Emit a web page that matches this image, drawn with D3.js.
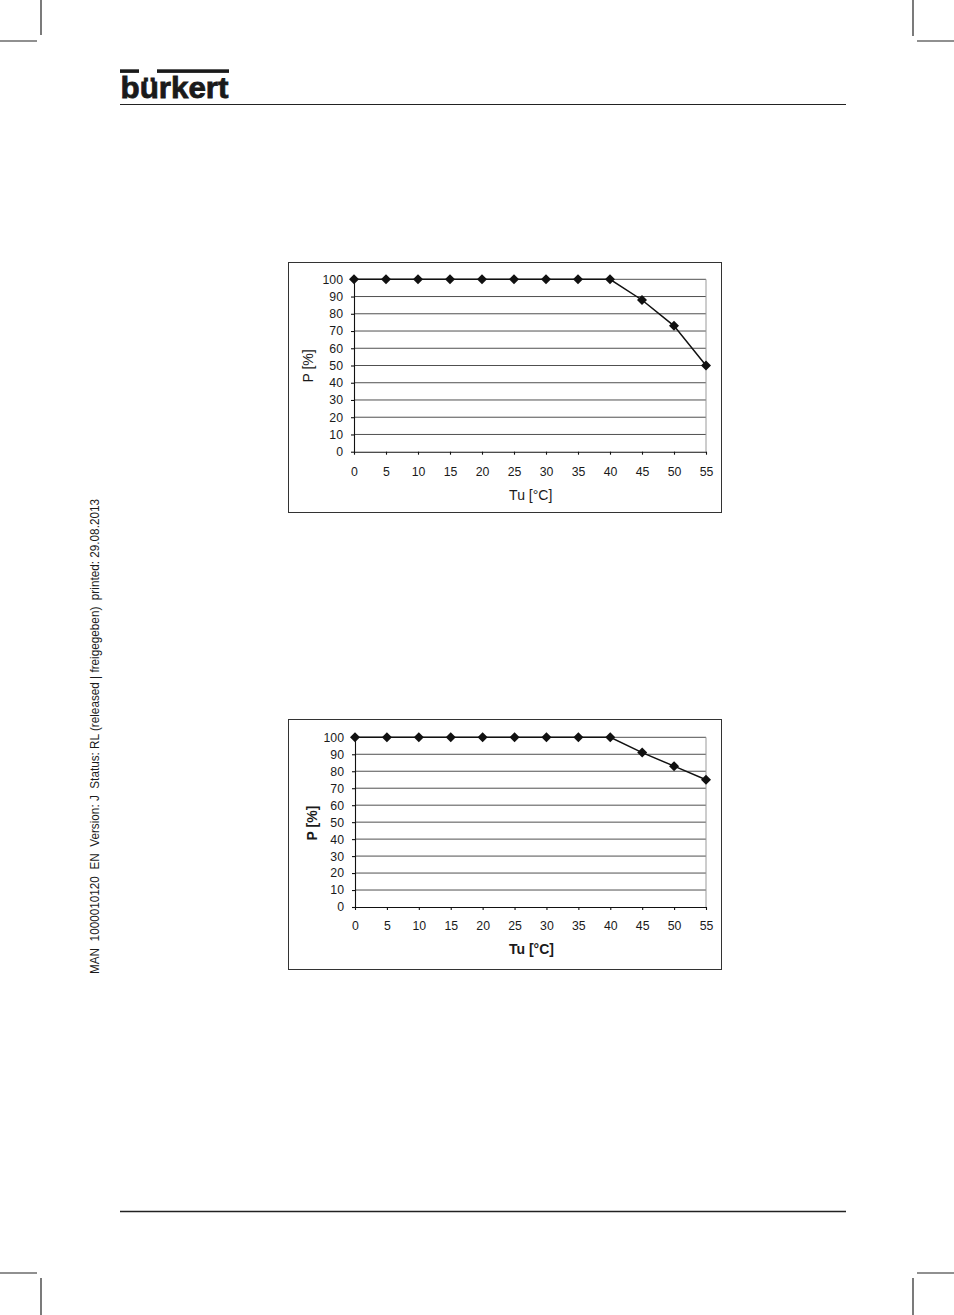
<!DOCTYPE html>
<html>
<head>
<meta charset="utf-8">
<script src="https://cdn.jsdelivr.net/npm/d3@7/dist/d3.min.js"></script>
<style>
  html, body { margin: 0; padding: 0; background: #fff; }
  svg { display: block; }
  text { font-family: "Liberation Sans", Arial, sans-serif; fill: #1a1a1a; }
</style>
</head>
<body>
<svg id="page" width="954" height="1315"></svg>
<script>
// ---------- data ----------
const temps = [0, 5, 10, 15, 20, 25, 30, 35, 40, 45, 50, 55];
const power1 = [100, 100, 100, 100, 100, 100, 100, 100, 100, 88, 73, 50];
const power2 = [100, 100, 100, 100, 100, 100, 100, 100, 100, 91, 83, 75];
const yTicks = [0, 10, 20, 30, 40, 50, 60, 70, 80, 90, 100];
const xTicks = [0, 5, 10, 15, 20, 25, 30, 35, 40, 45, 50, 55];
const xTitle = "Tu [°C]";
const yTitle = "P [%]";
const sideText = "MAN  1000010120  EN  Version: J  Status: RL (released | freigegeben)  printed: 29.08.2013";
const brand = "bürkert";

const svg = d3.select("#page");

// ---------- page furniture ----------
const marks = [
  [41, 0, 41, 35], [0, 41, 37, 41],
  [913, 0, 913, 36], [917, 41, 954, 41],
  [0, 1273, 37, 1273], [41, 1278, 41, 1315],
  [917, 1273, 954, 1273], [913, 1278, 913, 1315]
];
svg.selectAll("line.crop").data(marks).join("line")
  .attr("class", "crop")
  .attr("x1", d => d[0]).attr("y1", d => d[1])
  .attr("x2", d => d[2]).attr("y2", d => d[3])
  .attr("stroke", "#222").attr("stroke-width", 1.2);

// header rule + footer rule
svg.append("line").attr("x1", 120).attr("x2", 846).attr("y1", 104.5).attr("y2", 104.5)
  .attr("stroke", "#222").attr("stroke-width", 1.2);
svg.append("line").attr("x1", 120).attr("x2", 846).attr("y1", 1211.5).attr("y2", 1211.5)
  .attr("stroke", "#222").attr("stroke-width", 1.5);

// logo
svg.append("rect").attr("x", 120).attr("y", 69.3).attr("width", 19).attr("height", 3.6).attr("fill", "#1a1a1a");
svg.append("rect").attr("x", 157).attr("y", 69.3).attr("width", 72).attr("height", 3.6).attr("fill", "#1a1a1a");
svg.append("text").attr("x", 120.5).attr("y", 97.5)
  .attr("font-size", 30).attr("font-weight", "bold")
  .attr("stroke", "#1a1a1a").attr("stroke-width", 0.8)
  .attr("textLength", 108).attr("lengthAdjust", "spacingAndGlyphs")
  .text(brand);

// side text
svg.append("text")
  .attr("transform", "translate(99.3,974) rotate(-90)")
  .attr("font-size", 12.5)
  .attr("textLength", 475).attr("lengthAdjust", "spacingAndGlyphs")
  .style("white-space", "pre")
  .text(sideText);

// ---------- charts ----------
const diamond = {
  draw(ctx, size) {
    const r = Math.sqrt(size / 2);
    ctx.moveTo(0, -r); ctx.lineTo(r, 0); ctx.lineTo(0, r); ctx.lineTo(-r, 0); ctx.closePath();
  }
};

function drawChart(values, cfg) {
  const g = svg.append("g");
  // outer frame
  g.append("rect")
    .attr("x", cfg.box[0]).attr("y", cfg.box[1])
    .attr("width", cfg.box[2]).attr("height", cfg.box[3])
    .attr("fill", "none").attr("stroke", "#333").attr("stroke-width", 1);

  const x = d3.scaleLinear().domain([0, 55]).range([cfg.x0, cfg.x1]);
  const y = d3.scaleLinear().domain([0, 100]).range([cfg.yBot, cfg.yTop]);

  // grid
  g.append("g").selectAll("line").data(yTicks.filter(t => t > 0)).join("line")
    .attr("x1", cfg.x0).attr("x2", cfg.x1)
    .attr("y1", d => y(d)).attr("y2", d => y(d))
    .attr("stroke", "#505050").attr("stroke-width", 1);
  // right border of plot
  g.append("line").attr("x1", cfg.x1).attr("x2", cfg.x1)
    .attr("y1", cfg.yTop).attr("y2", cfg.yBot)
    .attr("stroke", "#9a9a9a").attr("stroke-width", 1);

  // axes
  const ya = g.append("g").attr("transform", `translate(${cfg.x0},0)`)
    .call(d3.axisLeft(y).tickValues(yTicks).tickSize(3).tickSizeOuter(0).tickPadding(8));
  const xa = g.append("g").attr("transform", `translate(0,${cfg.yBot})`)
    .call(d3.axisBottom(x).tickValues(xTicks).tickSize(3).tickSizeOuter(0).tickPadding(cfg.xPad));
  [ya, xa].forEach(a => {
    a.selectAll("path, line").attr("stroke", "#111").attr("stroke-width", 1.1);
    a.selectAll("text").attr("font-size", 12.3).attr("font-family", "Liberation Sans, Arial, sans-serif")
      .attr("fill", "#1a1a1a");
  });

  // line + markers
  const pts = temps.map((t, i) => [t, values[i]]);
  g.append("path").datum(pts)
    .attr("d", d3.line().x(d => x(d[0])).y(d => y(d[1])))
    .attr("fill", "none").attr("stroke", "#111").attr("stroke-width", 1.5);
  g.append("g").selectAll("path").data(pts).join("path")
    .attr("transform", d => `translate(${x(d[0])},${y(d[1])})`)
    .attr("d", d3.symbol().type(diamond).size(50))
    .attr("fill", "#111");

  // titles
  g.append("text").attr("x", cfg.xt[0]).attr("y", cfg.xt[1])
    .attr("text-anchor", "middle").attr("font-size", 14)
    .attr("font-weight", cfg.bold ? "bold" : "normal")
    .text(xTitle);
  g.append("text").attr("transform", `translate(${cfg.yt[0]},${cfg.yt[1]}) rotate(-90)`)
    .attr("text-anchor", "middle").attr("font-size", 14)
    .attr("font-weight", cfg.bold ? "bold" : "normal")
    .text(yTitle);
}

drawChart(power1, {
  box: [288.5, 262.5, 433, 250],
  x0: 354, x1: 706, yTop: 279.3, yBot: 451.7, xPad: 12.5,
  xt: [530.7, 499.5], yt: [313, 366], bold: false
});
drawChart(power2, {
  box: [288.5, 719.5, 433, 250],
  x0: 355, x1: 706, yTop: 737.3, yBot: 907, xPad: 11,
  xt: [531.5, 953.5], yt: [316.5, 823], bold: true
});
</script>
</body>
</html>
